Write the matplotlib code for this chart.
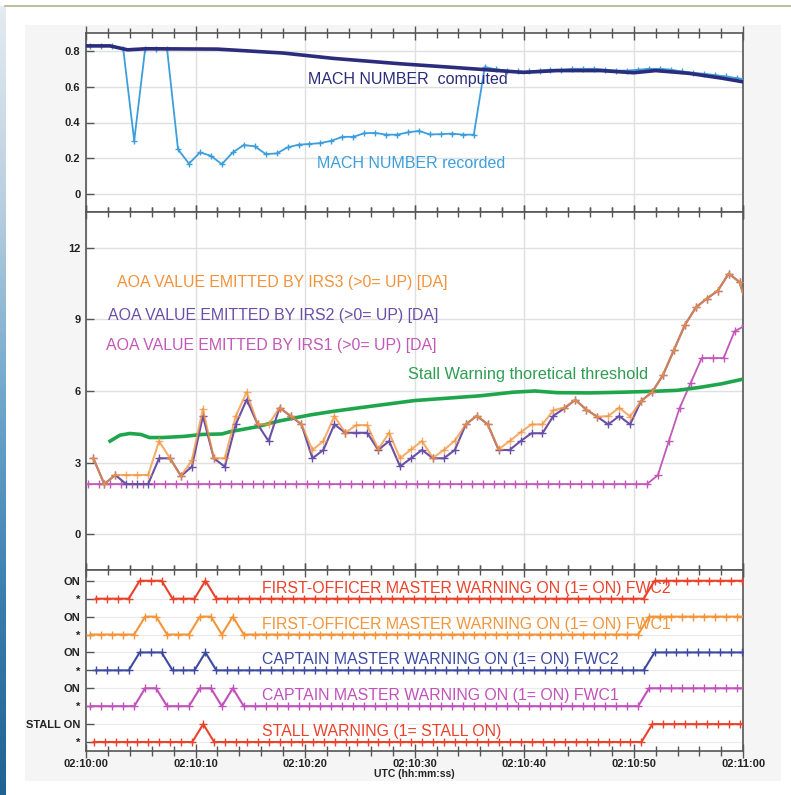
import numpy as np
import matplotlib
matplotlib.use("Agg")
import matplotlib.pyplot as plt
from matplotlib.ticker import MultipleLocator
from matplotlib.patches import Rectangle
from matplotlib.lines import Line2D
from matplotlib.colors import LinearSegmentedColormap

plt.rcParams['font.family'] = ['Liberation Sans', 'DejaVu Sans']

# ---------------- data ----------------
x_tick_labels = ["02:10:00", "02:10:10", "02:10:20", "02:10:30", "02:10:40", "02:10:50", "02:11:00"]

# Mach computed (time s after 02:10:00, value)
mach_comp_t = [0.0, 2.2, 3.8, 5.5, 12.0, 18.0, 22.6, 28.7, 33.0, 36.0, 39.9, 43.0, 47.0, 50.0, 52.0, 55.0, 58.0, 60.0]
mach_comp_v = [0.828, 0.828, 0.806, 0.812, 0.81, 0.788, 0.758, 0.728, 0.71, 0.697, 0.68, 0.69, 0.69, 0.678, 0.69, 0.675, 0.648, 0.627]

# Mach recorded, 1 Hz samples starting at 0.4 s
mach_rec_v = [0.828, 0.828, 0.828, 0.81, 0.298, 0.811, 0.81, 0.81, 0.25, 0.17,
              0.233, 0.214, 0.167, 0.233, 0.274, 0.267, 0.224, 0.227, 0.261, 0.276,
              0.28, 0.285, 0.298, 0.32, 0.32, 0.34, 0.342, 0.332, 0.332, 0.345,
              0.353, 0.333, 0.335, 0.338, 0.332, 0.332, 0.71, 0.697, 0.69, 0.685,
              0.685, 0.69, 0.695, 0.695, 0.70, 0.70, 0.70, 0.695, 0.69, 0.69,
              0.695, 0.70, 0.70, 0.695, 0.685, 0.678, 0.672, 0.665, 0.657, 0.648, 0.638]
mach_rec_t = np.arange(len(mach_rec_v)) + 0.4

# AOA IRS3 / IRS2, 1 Hz samples starting at 0.67 s
aoa_irs3 = [3.18, 2.10, 2.48, 2.48, 2.48, 2.48, 3.90, 3.18, 2.44, 3.10,
            5.25, 3.18, 3.18, 4.95, 5.95, 4.60, 4.60, 5.30, 4.97, 4.60,
            3.53, 3.90, 4.95, 4.25, 4.57, 4.57, 3.56, 4.25, 3.18, 3.55,
            3.90, 3.20, 3.53, 3.92, 4.60, 4.97, 4.60, 3.56, 3.90, 4.27,
            4.60, 4.60, 5.20, 5.30, 5.63, 5.22, 4.92, 4.95, 5.30, 4.93,
            5.58, 5.95, 6.67, 7.72, 8.77, 9.50, 9.87, 10.20, 10.92, 10.56, 9.0]
aoa_irs2 = [3.18, 2.10, 2.48, 2.10, 2.10, 2.10, 3.18, 3.18, 2.44, 2.83,
            4.95, 3.18, 2.83, 4.60, 5.64, 4.60, 3.90, 5.30, 4.95, 4.60,
            3.18, 3.53, 4.60, 4.25, 4.25, 4.25, 3.53, 3.90, 2.84, 3.18,
            3.53, 3.18, 3.18, 3.53, 4.60, 4.96, 4.60, 3.53, 3.53, 3.90,
            4.23, 4.23, 4.96, 5.28, 5.63, 5.22, 4.92, 4.60, 4.95, 4.60,
            5.58, 5.95, 6.67, 7.72, 8.77, 9.50, 9.87, 10.20, 10.92, 10.56, 9.0]
aoa_t = np.arange(len(aoa_irs3)) + 0.67

# AOA IRS1, 1 Hz samples starting at 0.2 s
aoa_irs1 = [2.1] * 52 + [2.47, 3.9, 5.3, 6.34, 7.38, 7.38, 7.38, 8.5, 8.75]
aoa_irs1_t = np.arange(len(aoa_irs1)) + 0.2

# Stall warning theoretical threshold
thr_t = [2.2, 3.1, 4.0, 5.0, 5.8, 7.0, 9.0, 10.6, 12.4, 13.2, 15.6, 17.7, 20.5, 22.6, 25.0,
         27.5, 30.0, 33.0, 36.0, 39.0, 41.0, 43.0, 46.0, 49.0, 52.0, 54.0, 56.0, 58.0, 60.0]
thr_v = [3.9, 4.15, 4.22, 4.18, 4.05, 4.05, 4.1, 4.18, 4.2, 4.3, 4.5, 4.75, 5.0, 5.15, 5.3,
         5.45, 5.6, 5.7, 5.8, 5.95, 6.0, 5.93, 5.92, 5.95, 5.99, 6.03, 6.15, 6.3, 6.5]

# Discrete warnings (0/1), 1 Hz
fo_fwc2 = [0] * 4 + [1] * 3 + [0] * 3 + [1] + [0] * 40 + [1] * 10
fo_fwc1 = [0] * 5 + [1] * 2 + [0] * 3 + [1] * 2 + [0] + [1] + [0] * 37 + [1] * 10
capt_fwc2 = [0] * 4 + [1] * 3 + [0] * 3 + [1] + [0] * 40 + [1] * 10
capt_fwc1 = [0] * 5 + [1] * 2 + [0] * 3 + [1] * 2 + [0] + [1] + [0] * 37 + [1] * 10
stall_warn = [0] * 10 + [1] + [0] * 40 + [1] * 10
fwc2_t = np.arange(len(fo_fwc2)) + 0.9
fwc1_t = np.arange(len(fo_fwc1)) + 0.4
stall_t = np.arange(len(stall_warn)) + 0.7

# ---------------- styling ----------------
C_COMP = '#2b2d7c'
C_REC = '#3c9fdb'
C_IRS3 = '#f2933c'
C_IRS2 = '#6a4fa8'
C_IRS1 = '#c258b8'
C_THR = '#1fa64c'
C_RED = '#e9432c'
C_ORG = '#f3953a'
C_BLUE = '#3e4aa2'
C_MAG = '#c152ba'
GRID = '#e0e0e0'
SPINE = '#555555'

W, H = 791, 795
fig = plt.figure(figsize=(W / 100, H / 100), dpi=100)
fig.patch.set_facecolor('white')

# background decorations
fig.patches.append(Rectangle((25 / W, 1 - 781 / H), (781 - 25) / W, (781 - 25) / H,
                             transform=fig.transFigure, facecolor='#f5f5f5', edgecolor='none', zorder=-10))
fig.add_artist(Line2D([5 / W, 1], [1 - 6 / H, 1 - 6 / H], transform=fig.transFigure, color='#b3b38e', lw=1.2))
gax = fig.add_axes([0, 0, 6 / W, 1 - 6 / H])
grad = np.linspace(0, 1, 256).reshape(-1, 1)
cmap = LinearSegmentedColormap.from_list('bar', ['#e4ebf1', '#b9cfe0', '#6fa6cc', '#3a7eb0', '#1f6294'])
gax.imshow(grad, aspect='auto', cmap=cmap, extent=[0, 1, 0, 1], origin='upper')
gax.axis('off')

L, R = 86, 743.3


def rect(top, bottom):
    return [L / W, 1 - bottom / H, (R - L) / W, (bottom - top) / H]


ax1 = fig.add_axes(rect(33, 212))
ax2 = fig.add_axes(rect(212, 570))
ax3 = fig.add_axes(rect(570, 751))

tickfont = dict(fontsize=8, fontweight='bold', color='#222222')

for ax in (ax1, ax2, ax3):
    ax.set_xlim(0, 60)
    ax.xaxis.set_major_locator(MultipleLocator(10))
    ax.xaxis.set_minor_locator(MultipleLocator(2))
    ax.tick_params(axis='x', which='major', direction='inout', top=True, bottom=True,
                   length=10, width=1, color=SPINE)
    ax.tick_params(axis='x', which='minor', direction='inout', top=True, bottom=True,
                   length=7, width=1, color=SPINE)
    ax.tick_params(axis='y', which='major', direction='in', left=True, right=False,
                   length=6, width=1, color=SPINE, pad=4)
    ax.grid(True, which='major', color=GRID, lw=1.0, zorder=0)
    ax.set_axisbelow(True)
    for s in ax.spines.values():
        s.set_color(SPINE)
        s.set_linewidth(1.2)
    ax.set_facecolor('white')

ax1.tick_params(axis='x', labelbottom=False)
ax2.tick_params(axis='x', labelbottom=False)

# ---------------- top panel ----------------
ax1.set_ylim(-0.1, 0.9)
ax1.set_yticks([0, 0.2, 0.4, 0.6, 0.8])
ax1.set_yticklabels(['0', '0.2', '0.4', '0.6', '0.8'], **tickfont)
ax1.plot(mach_rec_t, mach_rec_v, color=C_REC, lw=1.3, marker='+', ms=5, mew=1.0, zorder=3)
ax1.plot(mach_comp_t, mach_comp_v, color=C_COMP, lw=2.6, zorder=4, solid_capstyle='round')
ax1.text(20.3, 0.642, 'MACH NUMBER  computed', color=C_COMP, fontsize=11.5, ha='left', va='center', zorder=5)
ax1.text(21.1, 0.169, 'MACH NUMBER recorded', color=C_REC, fontsize=11.5, ha='left', va='center', zorder=5)

# ---------------- middle panel ----------------
ax2.set_ylim(-1.5, 13.5)
ax2.set_yticks([0, 3, 6, 9, 12])
ax2.set_yticklabels(['0', '3', '6', '9', '12'], **tickfont)
ax2.plot(aoa_irs1_t, aoa_irs1, color=C_IRS1, lw=1.3, marker='+', ms=6, mew=1.0, zorder=3)
ax2.plot(thr_t, thr_v, color=C_THR, lw=2.6, zorder=3)
ax2.plot(aoa_t, aoa_irs2, color=C_IRS2, lw=1.5, marker='+', ms=6, mew=1.0, zorder=4)
ax2.plot(aoa_t, aoa_irs3, color=C_IRS3, lw=1.5, marker='+', ms=6, mew=1.0, alpha=0.75, zorder=5)
ax2.text(2.83, 10.53, 'AOA VALUE EMITTED BY IRS3 (>0= UP) [DA]', color=C_IRS3, fontsize=11.4, ha='left', va='center')
ax2.text(2.0, 9.15, 'AOA VALUE EMITTED BY IRS2 (>0= UP) [DA]', color=C_IRS2, fontsize=11.4, ha='left', va='center')
ax2.text(1.83, 7.9, 'AOA VALUE EMITTED BY IRS1 (>0= UP) [DA]', color=C_IRS1, fontsize=11.4, ha='left', va='center')
ax2.text(29.4, 6.69, 'Stall Warning thoretical threshold', color='#2f9d52', fontsize=11.8, ha='left', va='center')

# ---------------- bottom panel ----------------
ax3.set_ylim(-0.5, 9.6)
ax3.set_yticks([0, 1, 2, 3, 4, 5, 6, 7, 8, 9])
ax3.set_yticklabels(['*', 'STALL ON', '*', 'ON', '*', 'ON', '*', 'ON', '*', 'ON'], **tickfont)
ax3.grid(True, which='major', axis='y', color='#ebebeb', lw=0.8)
ax3.grid(False, axis='x')

signals = [
    (fwc2_t, fo_fwc2, 8, C_RED, 'FIRST-OFFICER MASTER WARNING ON (1= ON) FWC2'),
    (fwc1_t, fo_fwc1, 6, C_ORG, 'FIRST-OFFICER MASTER WARNING ON (1= ON) FWC1'),
    (fwc2_t, capt_fwc2, 4, C_BLUE, 'CAPTAIN MASTER WARNING ON (1= ON) FWC2'),
    (fwc1_t, capt_fwc1, 2, C_MAG, 'CAPTAIN MASTER WARNING ON (1= ON) FWC1'),
    (stall_t, stall_warn, 0, C_RED, 'STALL WARNING (1= STALL ON)'),
]
for t, v, base, col, label in signals:
    ax3.plot(t, np.asarray(v) + base, color=col, lw=1.5, marker='+', ms=6, mew=1.0, zorder=3)
    ax3.text(16.07, base + 0.58, label, color=col, fontsize=11.4, ha='left', va='center', zorder=4)

ax3.set_xticks([0, 10, 20, 30, 40, 50, 60])
ax3.set_xticklabels(x_tick_labels, **tickfont)
ax3.tick_params(axis='x', which='major', pad=1)
ax3.set_xlabel('UTC (hh:mm:ss)', fontsize=7.5, fontweight='bold', color='#222222', labelpad=0)

fig.savefig('out.png', dpi=100, facecolor=fig.get_facecolor())
